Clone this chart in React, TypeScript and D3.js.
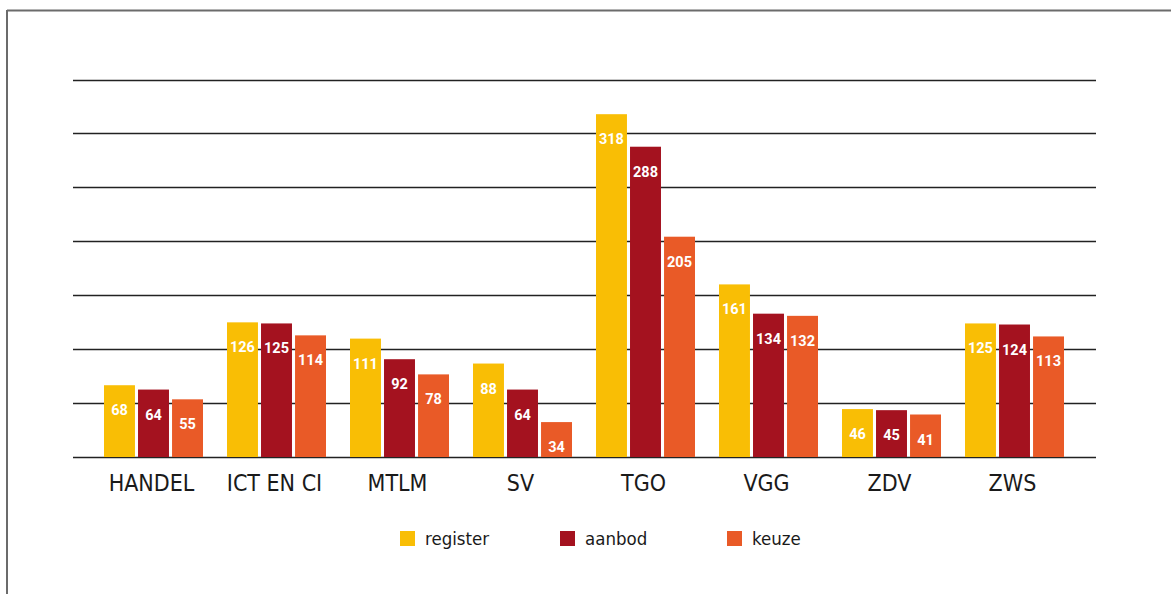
import { useRef, useLayoutEffect } from 'react';
import * as d3 from 'd3';

const categories = ['HANDEL', 'ICT EN CI', 'MTLM', 'SV', 'TGO', 'VGG', 'ZDV', 'ZWS'];
const seriesNames = ['register', 'aanbod', 'keuze'];
const register = [68, 126, 111, 88, 318, 161, 46, 125];
const aanbod = [64, 125, 92, 64, 288, 134, 45, 124];
const keuze = [55, 114, 78, 34, 205, 132, 41, 113];
const gridLines = [0, 1, 2, 3, 4, 5, 6, 7];

const colors = ['#F9BE05', '#A4121F', '#E95A27'];

const W = 1171;
const H = 594;
const condensed = "'DejaVu Sans Condensed', 'DejaVu Sans', sans-serif";

export default function App() {
  const ref = useRef<SVGGElement>(null);

  useLayoutEffect(() => {
    const g = d3.select(ref.current);
    g.selectAll('*').remove();

    const values = [register, aanbod, keuze];
    const rows = categories.map((c, i) => ({
      cat: c,
      vals: seriesNames.map((s, j) => ({ key: s, v: values[j][i] }))
    }));

    // outer step 123px, bars 31px wide with 3px gaps
    const x0 = d3.scaleBand().domain(categories).range([92, 1076]).paddingInner(24 / 123).paddingOuter(12 / 123);
    const x1 = d3.scaleBand().domain(seriesNames).range([0, x0.bandwidth()]).paddingInner(0.09);
    // the original bars sit slightly above a true zero
    const y = d3.scaleLinear().domain([1.8, 350]).range([457, 79.5]);
    const base = y.range()[0];
    const grid = d3.scaleLinear().domain([0, 7]).range([457, 79.5]);

    // frame (only top and left edges show)
    g.append('line').attr('x1', 7).attr('x2', W).attr('y1', 10.5).attr('y2', 10.5)
      .attr('stroke', '#6b6b6b').attr('stroke-width', 2);
    g.append('line').attr('x1', 7).attr('x2', 7).attr('y1', 10).attr('y2', H)
      .attr('stroke', '#6b6b6b').attr('stroke-width', 2);

    g.append('g')
      .selectAll('line')
      .data(gridLines)
      .join('line')
      .attr('x1', 73)
      .attr('x2', 1096)
      .attr('y1', (d) => Math.round(grid(d)) + 0.5)
      .attr('y2', (d) => Math.round(grid(d)) + 0.5)
      .attr('stroke', '#222')
      .attr('stroke-width', 1.3);

    const grp = g.append('g')
      .selectAll('g')
      .data(rows)
      .join('g')
      .attr('transform', (d) => `translate(${x0(d.cat)},0)`);

    grp.selectAll('rect')
      .data((d) => d.vals)
      .join('rect')
      .attr('x', (d) => x1(d.key))
      .attr('width', x1.bandwidth())
      .attr('y', (d) => y(d.v))
      .attr('height', (d) => base - y(d.v))
      .attr('fill', (d, i) => colors[i]);

    grp.selectAll('text')
      .data((d) => d.vals)
      .join('text')
      .attr('x', (d) => x1(d.key) + x1.bandwidth() / 2)
      .attr('y', (d) => y(d.v) + 30)
      .attr('text-anchor', 'middle')
      .attr('fill', '#fff')
      .attr('font-family', 'Roboto, sans-serif')
      .attr('font-weight', 'bold')
      .attr('font-size', 14.5)
      .text((d) => d.v);

    // category labels
    g.append('g')
      .selectAll('text')
      .data(categories)
      .join('text')
      .attr('x', (d) => x0(d) + x0.bandwidth() / 2 - 2)
      .attr('y', 491)
      .attr('text-anchor', 'middle')
      .attr('fill', '#1a1a1a')
      .attr('font-family', condensed)
      .attr('font-stretch', 'condensed')
      .attr('font-size', 23)
      .text((d) => d);

    // legend
    const legendX = [400, 560, 727];
    const lg = g.append('g')
      .selectAll('g')
      .data(seriesNames)
      .join('g')
      .attr('transform', (d, i) => `translate(${legendX[i]},531)`);
    lg.append('rect').attr('width', 15).attr('height', 15).attr('fill', (d, i) => colors[i]);
    lg.append('text')
      .attr('x', 25)
      .attr('y', 14)
      .attr('fill', '#1a1a1a')
      .attr('font-family', condensed)
      .attr('font-stretch', 'condensed')
      .attr('font-size', 18.5)
      .text((d) => d);
  }, []);

  return (
    <svg width={W} height={H} style={{ position: 'absolute', left: 0, top: 0, background: '#fff' }}>
      <g ref={ref}></g>
    </svg>
  );
}
